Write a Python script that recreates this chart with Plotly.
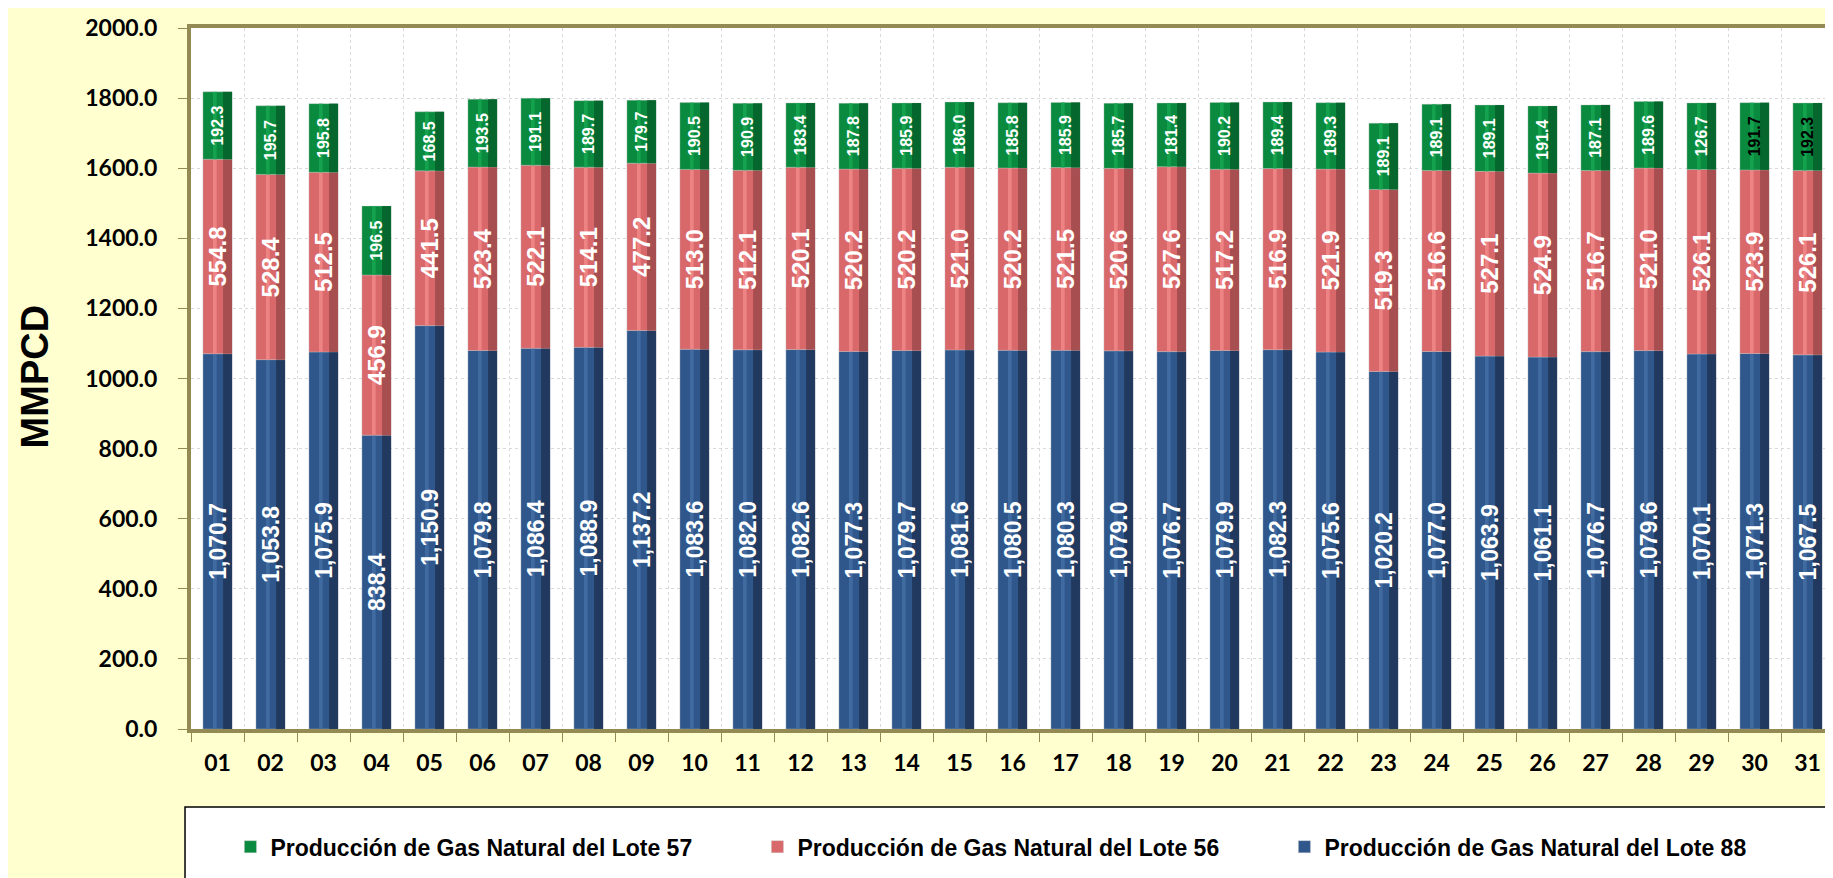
import plotly.graph_objects as go

days = [f"{d:02d}" for d in range(1, 32)]

lote88 = [1070.7, 1053.8, 1075.9, 838.4, 1150.9, 1079.8, 1086.4, 1088.9, 1137.2, 1083.6,
          1082.0, 1082.6, 1077.3, 1079.7, 1081.6, 1080.5, 1080.3, 1079.0, 1076.7, 1079.9,
          1082.3, 1075.6, 1020.2, 1077.0, 1063.9, 1061.1, 1076.7, 1079.6, 1070.1, 1071.3, 1067.5]
lote56 = [554.8, 528.4, 512.5, 456.9, 441.5, 523.4, 522.1, 514.1, 477.2, 513.0,
          512.1, 520.1, 520.2, 520.2, 521.0, 520.2, 521.5, 520.6, 527.6, 517.2,
          516.9, 521.9, 519.3, 516.6, 527.1, 524.9, 516.7, 521.0, 526.1, 523.9, 526.1]
# bar heights as drawn (day 29's drawn bar is ~190 although its label reads 126.7)
lote57 = [192.3, 195.7, 195.8, 196.5, 168.5, 193.5, 191.1, 189.7, 179.7, 190.5,
          190.9, 183.4, 187.8, 185.9, 186.0, 185.8, 185.9, 185.7, 181.4, 190.2,
          189.4, 189.3, 189.1, 189.1, 189.1, 191.4, 187.1, 189.6, 190.0, 191.7, 192.3]
lote57_labels = ["192.3", "195.7", "195.8", "196.5", "168.5", "193.5", "191.1", "189.7", "179.7", "190.5",
                 "190.9", "183.4", "187.8", "185.9", "186.0", "185.8", "185.9", "185.7", "181.4", "190.2",
                 "189.4", "189.3", "189.1", "189.1", "189.1", "191.4", "187.1", "189.6", "126.7", "191.7", "192.3"]

name88 = "Producción de Gas Natural del Lote 88"
name56 = "Producción de Gas Natural del Lote 56"
name57 = "Producción de Gas Natural del Lote 57"

# stacking bases computed from the data
base88 = [0.0] * len(days)
base56 = list(lote88)
base57 = [a + b for a, b in zip(lote88, lote56)]

OLIVE = "#948A54"
BAR_W = 0.55
lab_font = "Arial"

series = [
    # name, values, base, main, dark, light
    (name88, lote88, base88, "#30578B", "#1E3456", "#4570A6"),
    (name56, lote56, base56, "#D9686B", "#9E4A4C", "#F2898B"),
    (name57, lote57, base57, "#0A8A3E", "#05602A", "#17A853"),
]

fig = go.Figure()
for name, vals, base, c_main, c_dark, c_light in series:
    fig.add_trace(go.Bar(
        x=days, y=vals, base=base, name=name, width=BAR_W,
        marker=dict(color=c_main, line=dict(color="rgba(200,200,200,0.6)", width=0.6)),
        hoverinfo="skip", showlegend=True, legendgroup=name,
    ))
    # darker right-hand shading (3D look)
    fig.add_trace(go.Bar(
        x=days, y=vals, base=base, width=0.17, offset=0.105,
        marker=dict(color=c_dark, opacity=0.85, line=dict(width=0)),
        hoverinfo="skip", showlegend=False, legendgroup=name,
    ))
    # light highlight stripe
    fig.add_trace(go.Bar(
        x=days, y=vals, base=base, width=0.07, offset=-0.085,
        marker=dict(color=c_light, opacity=0.8, line=dict(width=0)),
        hoverinfo="skip", showlegend=False, legendgroup=name,
    ))

# value labels on transparent bars drawn on top
fig.add_trace(go.Bar(
    x=days, y=lote88, base=base88, width=BAR_W, showlegend=False,
    marker=dict(color="rgba(0,0,0,0)", line=dict(width=0)),
    texttemplate="%{y:,.1f}", textposition="inside", insidetextanchor="middle",
    textangle=-90, constraintext="none",
    textfont=dict(family=lab_font, size=23, color="white", weight="bold"),
))
fig.add_trace(go.Bar(
    x=days, y=lote56, base=base56, width=BAR_W, showlegend=False,
    marker=dict(color="rgba(0,0,0,0)", line=dict(width=0)),
    texttemplate="%{y:.1f}", textposition="inside", insidetextanchor="middle",
    textangle=-90, constraintext="none",
    textfont=dict(family=lab_font, size=24, color="white", weight="bold"),
))
green_colors = ["white"] * 29 + ["black", "black"]
fig.add_trace(go.Bar(
    x=days, y=lote57, base=base57, width=BAR_W, showlegend=False,
    text=lote57_labels,
    marker=dict(color="rgba(0,0,0,0)", line=dict(width=0)),
    texttemplate="%{text}", textposition="inside", insidetextanchor="middle",
    textangle=-90, constraintext="none",
    textfont=dict(family=lab_font, size=16, color=green_colors, weight="bold"),
))

fig.update_layout(
    barmode="overlay",
    width=1833, height=878,
    margin=dict(l=183, r=3, t=20, b=157),
    paper_bgcolor="#FFFFD0",
    plot_bgcolor="white",
    showlegend=True,
    legend=dict(
        orientation="h", traceorder="reversed",
        x=0.024, xanchor="left", y=-0.168, yanchor="middle",
        bgcolor="rgba(0,0,0,0)", borderwidth=0,
        font=dict(family="Arial", size=23, color="black", weight="bold"),
        entrywidth=482, entrywidthmode="pixels",
        itemwidth=30,
    ),
    shapes=[dict(
        type="rect", xref="paper", yref="paper", layer="below",
        x0=(177 - 183) / 1647, x1=(1832 - 183) / 1647,
        y0=(721 - 876) / 701, y1=(721 - 799) / 701,
        fillcolor="white", line=dict(color="black", width=1.5),
    )],
    annotations=[dict(
        text="MMPCD", xref="paper", yref="paper",
        x=(27 - 183) / 1647, y=(721 - 368) / 701,
        xanchor="center", yanchor="middle", textangle=-90, showarrow=False,
        font=dict(family="Arial", size=38, color="black", weight="bold"),
    )],
)

fig.update_xaxes(
    type="category", tickson="boundaries", ticks="outside", ticklen=9,
    tickcolor=OLIVE, tickwidth=1,
    showgrid=True, gridcolor="#D9D9D9", griddash="3px,3px", gridwidth=1,
    showline=True, linecolor=OLIVE, linewidth=4, mirror=True,
    tickfont=dict(family="Lato", size=23, color="black", weight="bold"),
    ticklabelstandoff=10,
)
fig.update_yaxes(
    range=[0, 2000], dtick=200, tickformat=".1f",
    ticks="outside", ticklen=9, tickcolor=OLIVE, tickwidth=1,
    showgrid=True, gridcolor="#D9D9D9", griddash="3px,3px", gridwidth=1,
    showline=True, linecolor=OLIVE, linewidth=4, mirror=True,
    zeroline=False,
    tickfont=dict(family="Lato", size=23, color="black", weight="bold"),
    ticklabelstandoff=16,
)

fig.write_html("out.html")
